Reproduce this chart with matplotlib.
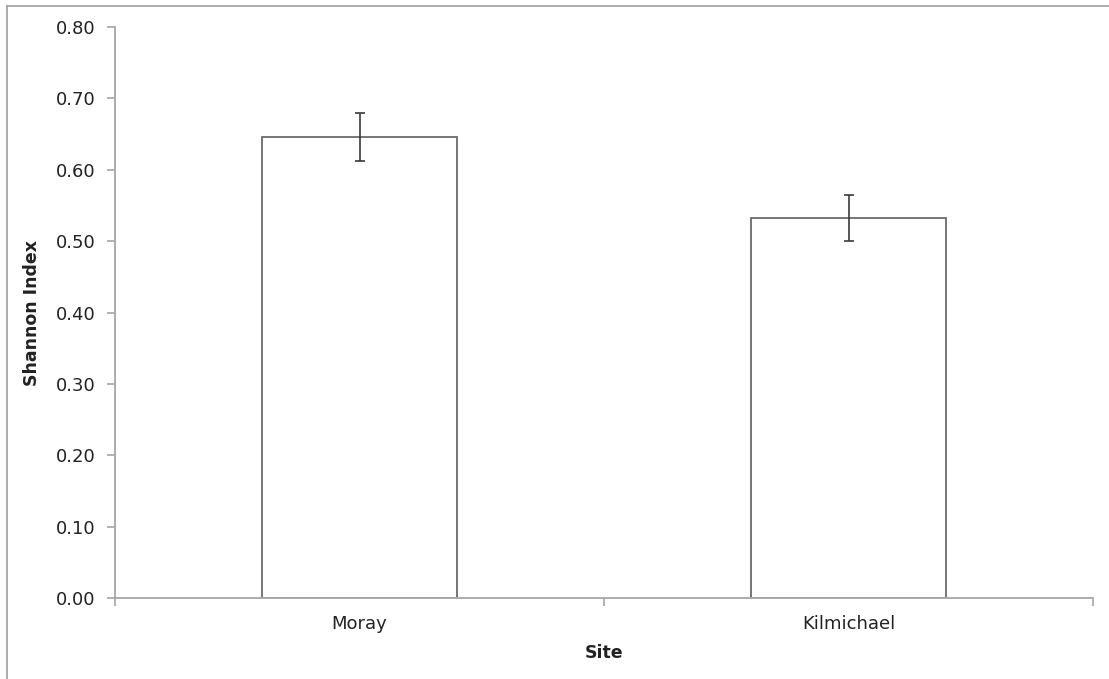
import matplotlib
matplotlib.use("Agg")
import matplotlib.pyplot as plt
from matplotlib.lines import Line2D
from matplotlib.ticker import FixedLocator, FormatStrFormatter

sites = ["Moray", "Kilmichael"]
shannon = [0.646, 0.532]
shannon_err = [0.034, 0.032]
yticks = [0.0, 0.1, 0.2, 0.3, 0.4, 0.5, 0.6, 0.7, 0.8]

W, H = 1109, 679
fig = plt.figure(figsize=(W / 100, H / 100), dpi=100)
fig.patch.set_facecolor("white")

# chart-area border (left and top edges)
border = "#a0a0a0"
fig.add_artist(Line2D([7 / W, 7 / W], [0, 1 - 6 / H], transform=fig.transFigure,
                      color=border, lw=1.2))
fig.add_artist(Line2D([7 / W, 1], [1 - 6 / H, 1 - 6 / H], transform=fig.transFigure,
                      color=border, lw=1.2))

ax = fig.add_axes([115 / W, (H - 598) / H, (1093 - 115) / W, (598 - 27) / H])

x = list(range(len(sites)))
ax.bar(x, shannon, width=0.4, color="white", edgecolor="#6b6b6b", linewidth=1.3,
       zorder=2)
ax.errorbar(x, shannon, yerr=shannon_err, fmt="none", ecolor="#3a3a3a",
            elinewidth=1.2, capsize=3.3, capthick=1.2, zorder=3)

ax.set_xlim(-0.5, len(sites) - 0.5)
ax.set_ylim(0, 0.8)
ax.set_yticks(yticks)
ax.yaxis.set_major_formatter(FormatStrFormatter("%.2f"))

ax.set_xticks(x)
ax.set_xticklabels(sites)
ax.xaxis.set_minor_locator(FixedLocator([i - 0.5 for i in range(len(sites) + 1)]))

axis_col = "#a6a6a6"
for side in ("top", "right"):
    ax.spines[side].set_visible(False)
for side in ("left", "bottom"):
    ax.spines[side].set_color(axis_col)
    ax.spines[side].set_linewidth(1.3)

text_col = "#222222"
ax.tick_params(axis="x", which="major", length=0, pad=12, labelsize=13,
               labelcolor=text_col)
ax.tick_params(axis="x", which="minor", length=6, width=1.2, color=axis_col)
ax.tick_params(axis="y", which="major", length=6, width=1.2, color=axis_col,
               pad=8, labelsize=13, labelcolor=text_col)

ax.set_xlabel("Site", fontsize=12.5, fontweight="bold", labelpad=8, color=text_col)
ax.set_ylabel("Shannon Index", fontsize=12.5, fontweight="bold", labelpad=11,
              color=text_col)

fig.savefig("out.png", dpi=100, facecolor="white")
